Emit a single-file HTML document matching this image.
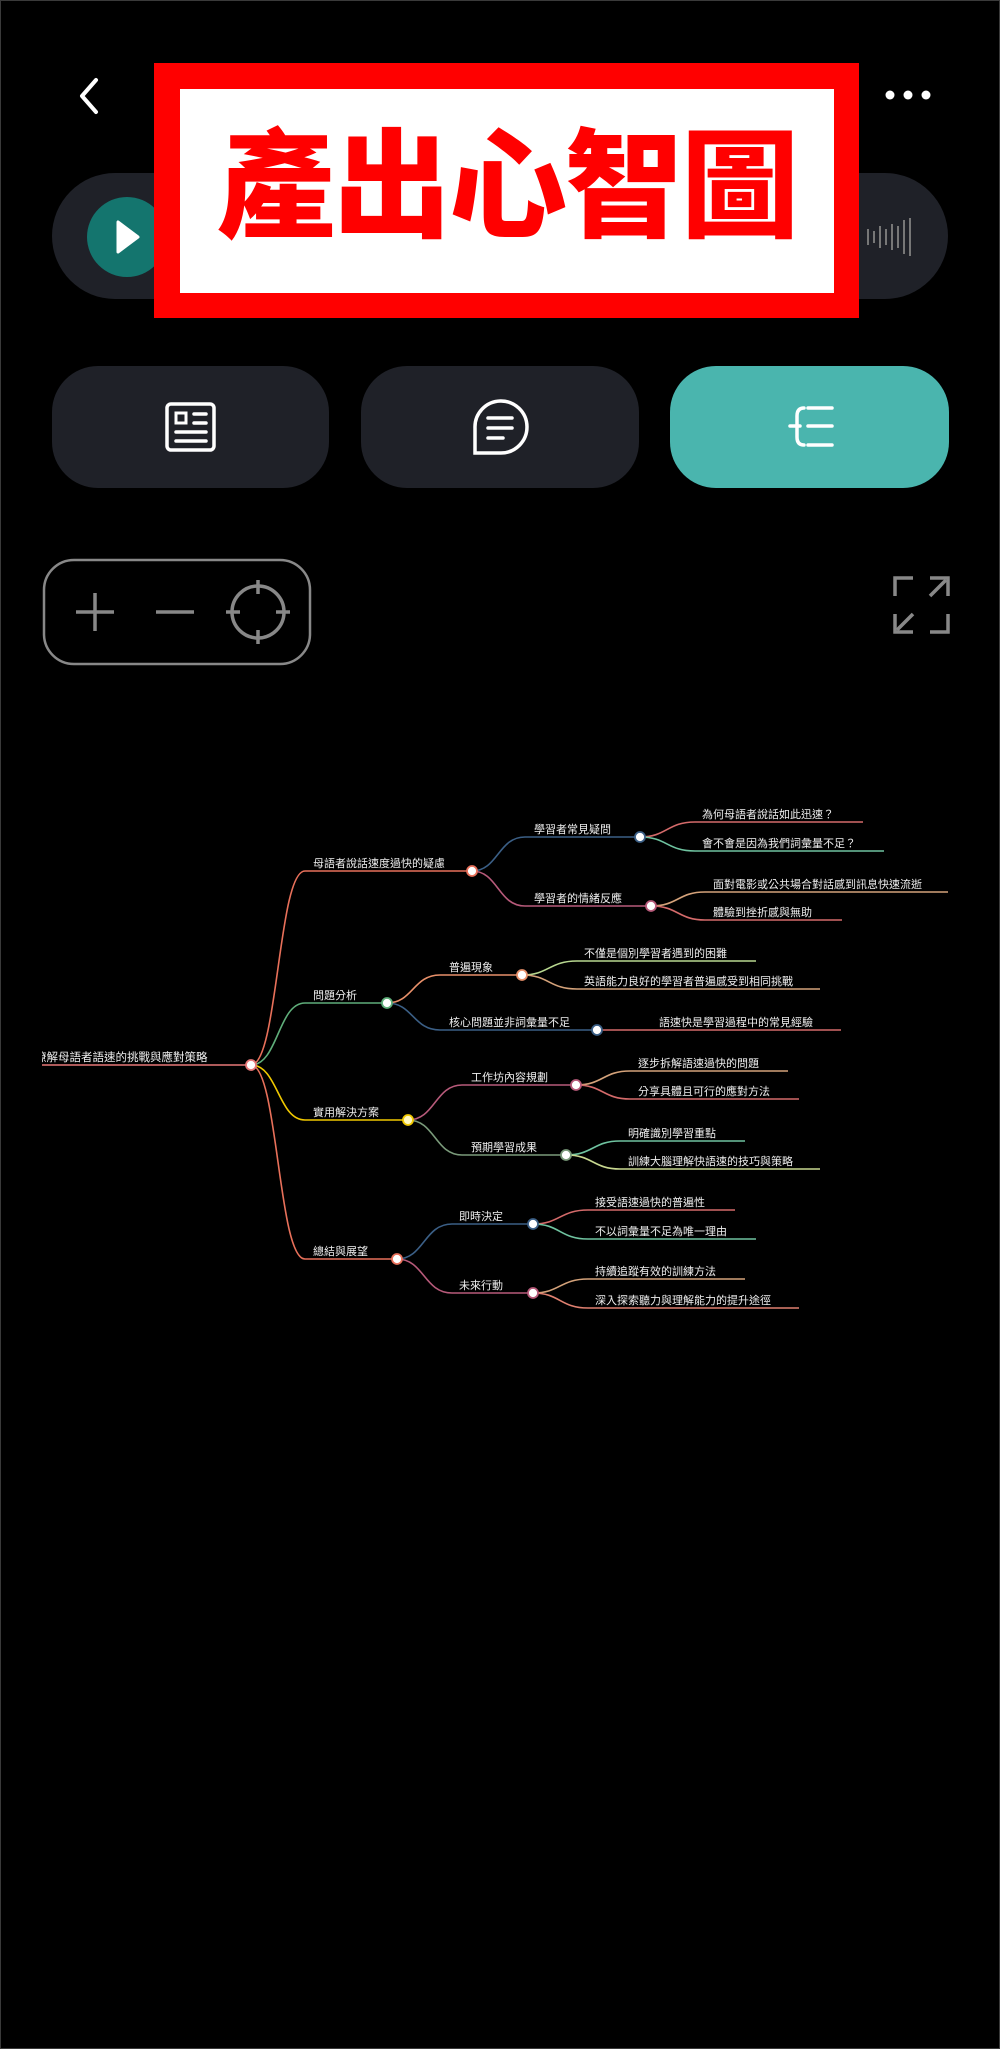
<!DOCTYPE html>
<html><head><meta charset="utf-8"><style>
html,body{margin:0;padding:0;background:#000;}
svg{display:block}
</style></head><body>
<svg width="1000" height="2049" viewBox="0 0 1000 2049" xmlns="http://www.w3.org/2000/svg">
<defs><clipPath id="rc"><rect x="42" y="1040" width="300" height="30"/></clipPath></defs>
<rect x="0" y="0" width="1000" height="2049" fill="#000"/>
<rect x="0.5" y="0.5" width="999" height="2048" fill="none" stroke="#3a3a3a" stroke-width="1"/>
<path d="M96 80 L82 96 L96 112" fill="none" stroke="#fff" stroke-width="4" stroke-linecap="round" stroke-linejoin="round"/>
<circle cx="890" cy="95" r="4.5" fill="#fff"/><circle cx="908" cy="95" r="4.5" fill="#fff"/><circle cx="926" cy="95" r="4.5" fill="#fff"/>
<rect x="52" y="173" width="896" height="126" rx="63" fill="#1f2128"/>
<circle cx="127" cy="237" r="40" fill="#14756e"/>
<path d="M118 222 L118 252 L138 237 Z" fill="#fff" stroke="#fff" stroke-width="3" stroke-linejoin="round"/>
<g stroke="#777" stroke-width="2">
<line x1="868" y1="229" x2="868" y2="245"/><line x1="874" y1="231" x2="874" y2="243"/><line x1="880" y1="226" x2="880" y2="248"/><line x1="886" y1="229" x2="886" y2="245"/><line x1="892" y1="224" x2="892" y2="250"/><line x1="898" y1="226" x2="898" y2="248"/><line x1="904" y1="220" x2="904" y2="254"/><line x1="910" y1="218" x2="910" y2="256"/>
</g>
<rect x="154" y="63" width="705" height="255" fill="#ff0000"/>
<rect x="180" y="89" width="654" height="204" fill="#fff"/>
<text x="507" y="228" text-anchor="middle" font-family="'Noto Sans CJK TC','Noto Sans CJK SC',sans-serif" font-weight="900" font-size="118" fill="#ff0000" letter-spacing="-2">產出心智圖</text>
<rect x="52" y="366" width="277" height="122" rx="46" fill="#1f2128"/>
<rect x="361" y="366" width="278" height="122" rx="46" fill="#1f2128"/>
<rect x="670" y="366" width="279" height="122" rx="46" fill="#4ab5ae"/>
<g fill="none" stroke="#fff" stroke-width="3.5" stroke-linecap="round">
<rect x="167" y="404" width="47" height="46" rx="4"/>
<rect x="176" y="413" width="10" height="10" stroke-width="3"/>
<line x1="194" y1="414" x2="206" y2="414"/><line x1="194" y1="423" x2="206" y2="423"/>
<line x1="176" y1="432" x2="206" y2="432"/><line x1="176" y1="441" x2="206" y2="441"/>
<path d="M475 453 L475 428 A26 26 0 1 1 501 453 Z"/>
<line x1="488" y1="418" x2="512" y2="418"/><line x1="488" y1="428" x2="512" y2="428"/><line x1="488" y1="438" x2="503" y2="438"/>
<path d="M804 408 Q797 408 797 416 L797 437 Q797 445 804 445"/>
<line x1="790" y1="426" x2="800" y2="426"/>
<line x1="808" y1="408" x2="832" y2="408"/><line x1="808" y1="426" x2="832" y2="426"/><line x1="808" y1="445" x2="832" y2="445"/>
</g>
<rect x="44" y="560" width="266" height="104" rx="30" fill="none" stroke="#888" stroke-width="2.5"/>
<g stroke="#888" stroke-width="3.5" fill="none">
<line x1="76" y1="612" x2="114" y2="612"/><line x1="95" y1="593" x2="95" y2="631"/>
<line x1="156" y1="612" x2="194" y2="612"/>
<circle cx="258" cy="612" r="26"/>
<line x1="258" y1="580" x2="258" y2="594"/><line x1="258" y1="630" x2="258" y2="644"/>
<line x1="226" y1="612" x2="240" y2="612"/><line x1="276" y1="612" x2="290" y2="612"/>
<path d="M895 596 L895 578 L913 578"/><path d="M930 578 L948 578 L948 596"/><path d="M948 614 L948 632 L930 632"/><path d="M913 632 L895 632 L895 614"/>
<line x1="930" y1="596" x2="946" y2="580"/><line x1="897" y1="630" x2="913" y2="614"/>
</g>
<g fill="none" stroke-width="1.6">
<path d="M42 1065 L251 1065" stroke="#e87878"/>
<path d="M251 1065 C278 1065 278 871 305 871 L472 871" stroke="#e8705a"/>
<path d="M251 1065 C278 1065 278 1003 305 1003 L387 1003" stroke="#5fae7a"/>
<path d="M251 1065 C278 1065 278 1120 305 1120 L408 1120" stroke="#f0c800"/>
<path d="M251 1065 C278 1065 278 1259 305 1259 L397 1259" stroke="#e8705a"/>
<path d="M472 871 C498 871 498 837 525 837 L640 837" stroke="#3b5f86"/>
<path d="M472 871 C498 871 498 906 525 906 L651 906" stroke="#b75a7a"/>
<path d="M640 837 C667 837 667 822 695 822 L863 822" stroke="#d46a6a"/>
<path d="M640 837 C667 837 667 851 695 851 L884 851" stroke="#6fc3a0"/>
<path d="M651 906 C678 906 678 892 705 892 L948 892" stroke="#d4a27a"/>
<path d="M651 906 C678 906 678 920 705 920 L842 920" stroke="#d46a6a"/>
<path d="M387 1003 C413 1003 413 975 440 975 L522 975" stroke="#e8906a"/>
<path d="M387 1003 C413 1003 413 1030 440 1030 L597 1030" stroke="#3b5f86"/>
<path d="M522 975 C549 975 549 961 577 961 L756 961" stroke="#b8d890"/>
<path d="M522 975 C549 975 549 989 577 989 L820 989" stroke="#d4a27a"/>
<path d="M597 1030 L841 1030" stroke="#d46a6a"/>
<path d="M408 1120 C435 1120 435 1085 462 1085 L576 1085" stroke="#b75a7a"/>
<path d="M408 1120 C435 1120 435 1155 462 1155 L566 1155" stroke="#7a9a7a"/>
<path d="M576 1085 C603 1085 603 1071 630 1071 L788 1071" stroke="#d4a27a"/>
<path d="M576 1085 C603 1085 603 1099 630 1099 L799 1099" stroke="#d46a6a"/>
<path d="M566 1155 C593 1155 593 1141 620 1141 L745 1141" stroke="#6fc3a0"/>
<path d="M566 1155 C593 1155 593 1169 620 1169 L820 1169" stroke="#c8d890"/>
<path d="M397 1259 C424 1259 424 1224 452 1224 L533 1224" stroke="#3b5f86"/>
<path d="M397 1259 C424 1259 424 1293 452 1293 L533 1293" stroke="#b75a7a"/>
<path d="M533 1224 C560 1224 560 1210 588 1210 L735 1210" stroke="#d46a6a"/>
<path d="M533 1224 C560 1224 560 1239 588 1239 L756 1239" stroke="#6fc3a0"/>
<path d="M533 1293 C560 1293 560 1279 588 1279 L745 1279" stroke="#d4a27a"/>
<path d="M533 1293 C560 1293 560 1308 588 1308 L799 1308" stroke="#e08070"/>
</g>
<g fill="#fff" stroke-width="1.8">
<circle cx="251" cy="1065" r="5" stroke="#e87878"/>
<circle cx="472" cy="871" r="5" stroke="#e8705a"/>
<circle cx="387" cy="1003" r="5" stroke="#5fae7a"/>
<circle cx="408" cy="1120" r="5" stroke="#f0c800" fill="#fff8c0"/>
<circle cx="397" cy="1259" r="5" stroke="#e8705a"/>
<circle cx="640" cy="837" r="5" stroke="#3b5f86"/>
<circle cx="651" cy="906" r="5" stroke="#b75a7a"/>
<circle cx="522" cy="975" r="5" stroke="#e8906a"/>
<circle cx="597" cy="1030" r="5" stroke="#3b5f86"/>
<circle cx="576" cy="1085" r="5" stroke="#b75a7a"/>
<circle cx="566" cy="1155" r="5" stroke="#7a9a7a"/>
<circle cx="533" cy="1224" r="5" stroke="#3b5f86"/>
<circle cx="533" cy="1293" r="5" stroke="#b75a7a"/>
</g>
<g font-family="'Liberation Sans','Noto Sans CJK TC',sans-serif" font-size="11" fill="#eee">
<text x="35" y="1061" font-size="11.5" clip-path="url(#rc)">瞭解母語者語速的挑戰與應對策略</text>
<text x="313" y="867">母語者說話速度過快的疑慮</text>
<text x="313" y="999">問題分析</text>
<text x="313" y="1116">實用解決方案</text>
<text x="313" y="1255">總結與展望</text>
<text x="534" y="833">學習者常見疑問</text>
<text x="534" y="902">學習者的情緒反應</text>
<text x="702" y="818">為何母語者說話如此迅速？</text>
<text x="702" y="847">會不會是因為我們詞彙量不足？</text>
<text x="713" y="888">面對電影或公共場合對話感到訊息快速流逝</text>
<text x="713" y="916">體驗到挫折感與無助</text>
<text x="449" y="971">普遍現象</text>
<text x="449" y="1026">核心問題並非詞彙量不足</text>
<text x="584" y="957">不僅是個別學習者遇到的困難</text>
<text x="584" y="985">英語能力良好的學習者普遍感受到相同挑戰</text>
<text x="659" y="1026">語速快是學習過程中的常見經驗</text>
<text x="471" y="1081">工作坊內容規劃</text>
<text x="471" y="1151">預期學習成果</text>
<text x="638" y="1067">逐步拆解語速過快的問題</text>
<text x="638" y="1095">分享具體且可行的應對方法</text>
<text x="628" y="1137">明確識別學習重點</text>
<text x="628" y="1165">訓練大腦理解快語速的技巧與策略</text>
<text x="459" y="1220">即時決定</text>
<text x="459" y="1289">未來行動</text>
<text x="595" y="1206">接受語速過快的普遍性</text>
<text x="595" y="1235">不以詞彙量不足為唯一理由</text>
<text x="595" y="1275">持續追蹤有效的訓練方法</text>
<text x="595" y="1304">深入探索聽力與理解能力的提升途徑</text>
</g>
</svg>
</body></html>
